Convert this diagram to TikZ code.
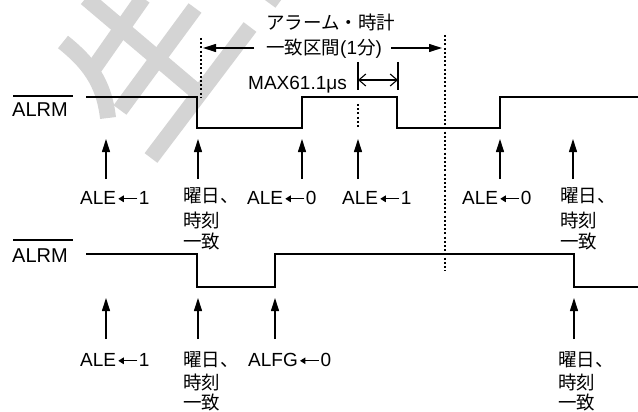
\documentclass[tikz,border=0pt]{standalone}
\usepackage{fontspec}
\setmainfont{Liberation Sans}
\newfontfamily\cjk{Noto Sans CJK JP}
\usetikzlibrary{arrows.meta}
\newcommand{\larr}{\kern1.5pt\tikz[baseline=-5.2pt]\draw[line width=1.3pt,-{Triangle[length=5.5pt,width=6.5pt]}] (19pt,0pt) -- (0pt,0pt);\kern1pt}
\tikzset{
 wave/.style={line width=2.2pt, line join=miter},
 dots/.style={line width=1.2pt, dash pattern=on 2pt off 2.2pt},
 evt/.style={line width=1.1pt, -{Triangle[length=13pt,width=8pt]}},
 lat/.style={inner sep=0pt, anchor=base west, font=\fontsize{19}{23}\selectfont},
 jp/.style={inner sep=0pt, anchor=base west, font=\cjk\fontsize{18.5}{23}\selectfont},
 wm/.style={line width=16pt, draw=black!17},
 hint/.style={line width=1.1pt, -{Triangle[length=13pt,width=8pt]}},
 span/.style={line width=1.1pt, {Straight Barb[length=7pt,width=12pt]}-{Straight Barb[length=7pt,width=12pt]}},
 ovl/.style={line width=1.3pt},
}
\begin{document}
\begin{tikzpicture}[x=1pt,y=-1pt]
\useasboundingbox (0,0) rectangle (638,412);
% watermark
\draw[wm] (86,-2) -- (197,92);
\draw[wm] (143,-2) -- (94,68);
\draw[wm] (63,42) .. controls (88,62) and (104,82) .. (108,118);
\draw[wm] (195,8) -- (120,110);
\draw[wm] (250,27) -- (151,158);
\draw[wm] (280,-12) -- (269,3);

% ALRM labels
\node[lat, font=\fontsize{20}{24}\selectfont] (r1) at (12,117) {ALRM};
\node[lat, font=\fontsize{20}{24}\selectfont] (r2) at (12,262) {ALRM};
\draw[ovl] (13,96) -- (73,96);
\draw[ovl] (13,240) -- (73,240);

% waveforms
\draw[wave] (86,97) -- (197,97) -- (197,128) -- (302,128) -- (302,97) -- (397,97) -- (397,128) -- (500,128) -- (500,97) -- (638,97);
\draw[wave] (86,254) -- (197,254) -- (197,287) -- (275,287) -- (275,254) -- (574,254) -- (574,287) -- (638,287);

% dotted markers
\draw[dots] (201,38) -- (201,97);
\draw[dots] (445,35) -- (445,271);
\draw[dots] (358,104) -- (358,128);

% title
\node[jp] (t1) at (266,30) {アラーム・時計};
\node[lat, font=\fontsize{19}{22}\selectfont] (t2) at (266,55) {{\cjk\fontsize{18.5}{22}\selectfont 一致区間}(1{\cjk\fontsize{18.5}{22}\selectfont 分})};
\coordinate (hl) at (203,48);
\coordinate (hr) at (442,48);
\draw[hint] (254,48) coordinate (hlt) -- (hl);
\draw[hint] (391,48) coordinate (hrt) -- (hr);

% MAX span
\node[lat, font=\fontsize{19}{22}\selectfont] (mx) at (248,89) {MAX61.1μs};
\draw[line width=1.1pt] (358,62) -- (358,90);
\draw[line width=1.1pt] (398,62) -- (398,90);
\coordinate (sl) at (358,80);
\coordinate (sr) at (398,80);
\draw[span] (sl) -- (sr);

% top row labels
\node[lat] (a1) at (80,204) {ALE\larr1};
\node[jp] (a2a) at (183,202) {曜日、};
\node[jp] (a2b) at (183,227) {時刻};
\node[jp] (a2c) at (183,248) {一致};
\node[lat] (a3) at (247,204) {ALE\larr0};
\node[lat] (a4) at (342,204) {ALE\larr1};
\node[lat] (a5) at (462,204) {ALE\larr0};
\node[jp] (a6a) at (560,202) {曜日、};
\node[jp] (a6b) at (560,227) {時刻};
\node[jp] (a6c) at (560,248) {一致};

% top row arrows
\foreach \n/\x in {1/106,2/198,3/302,4/358,5/500,6/573}{
  \coordinate (ut\n) at (\x,139);
  \coordinate (ub\n) at (\x,179);
  \draw[evt] (ub\n) -- (ut\n);
}

% bottom row labels
\node[lat] (b1) at (80,366) {ALE\larr1};
\node[jp] (b2a) at (183,366) {曜日、};
\node[jp] (b2b) at (183,389) {時刻};
\node[jp] (b2c) at (183,409) {一致};
\node[lat] (b3) at (248,366) {ALFG\larr0};
\node[jp] (b4a) at (558,366) {曜日、};
\node[jp] (b4b) at (558,389) {時刻};
\node[jp] (b4c) at (558,409) {一致};

% bottom row arrows
\foreach \n/\x in {1/106,2/198,3/275,4/574}{
  \coordinate (dt\n) at (\x,298);
  \coordinate (db\n) at (\x,339);
  \draw[evt] (db\n) -- (dt\n);
}
\end{tikzpicture}
\end{document}
